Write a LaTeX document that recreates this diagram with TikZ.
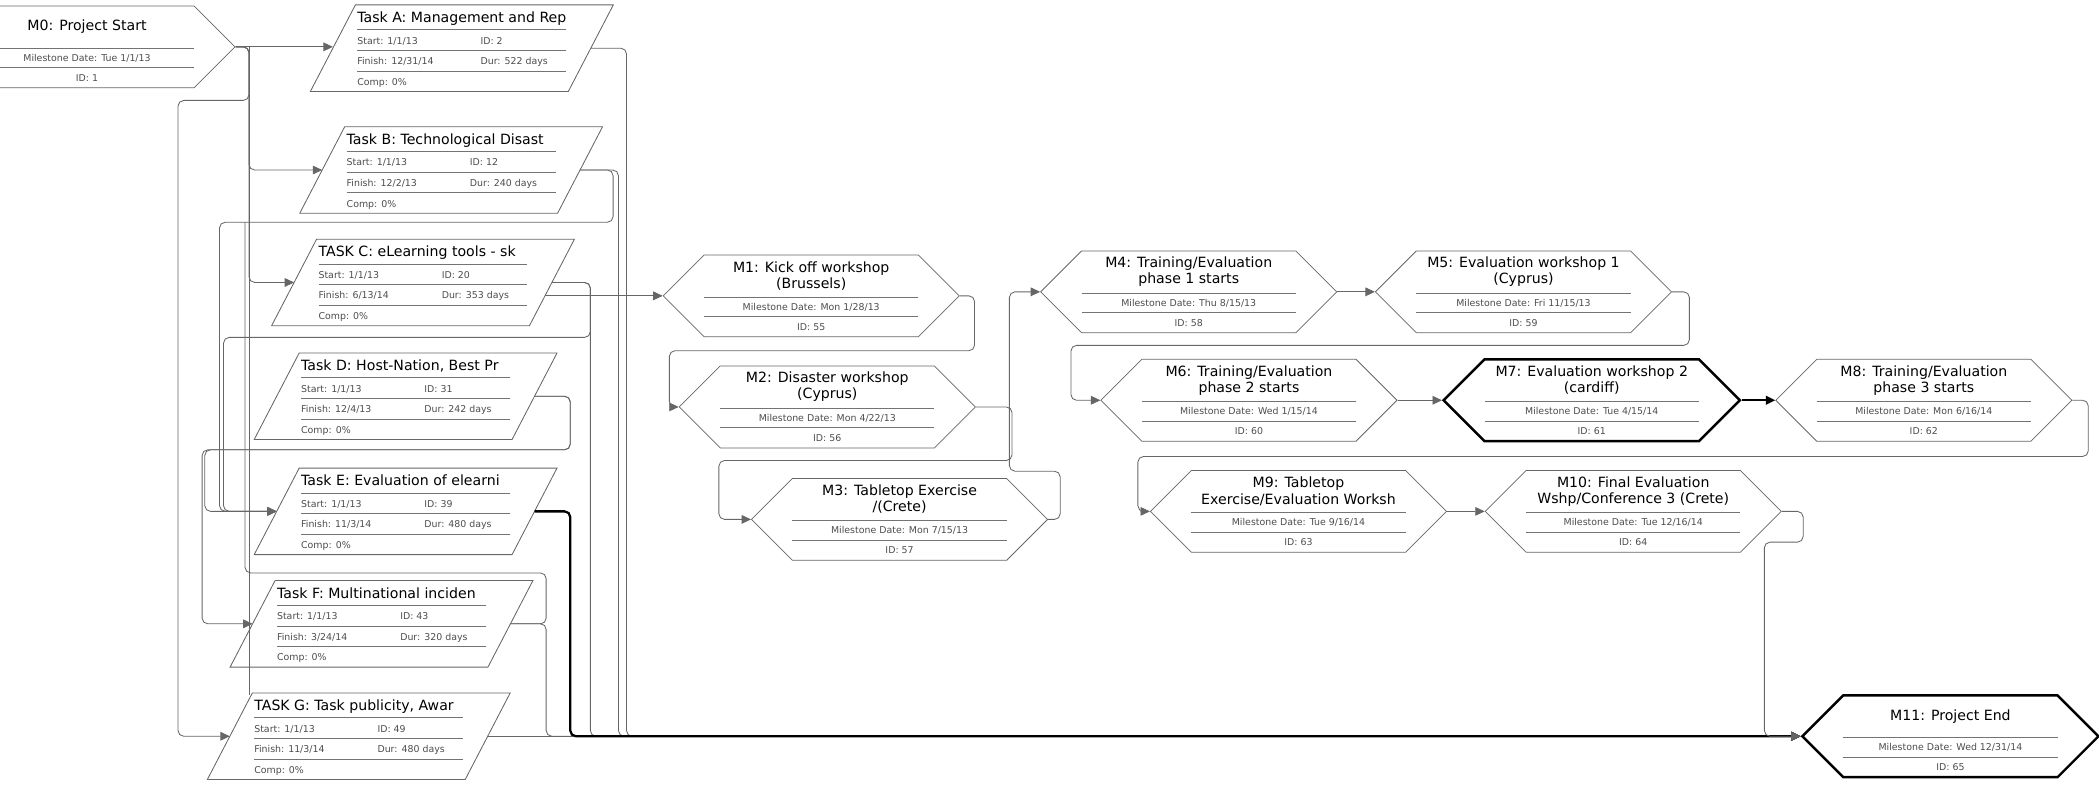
\documentclass[tikz,border=0pt]{standalone}
\usepackage{fontspec}
\setmainfont{DejaVu Sans}
\usepackage{colortbl}
\usetikzlibrary{arrows.meta,positioning,shapes.symbols,calc}
\tikzset{>/.tip={Triangle[length=5pt,width=4.6pt]}}
\arrayrulecolor{black!55}
\def\arraystretch{0.5}
\def\ttl{\fontsize{7.5}{8.6}\selectfont}
\def\fld{\leavevmode\fontsize{5}{6}\selectfont\color{black!70}}
\newcommand\mst[3]{\begin{tabular}{@{}>{\centering\arraybackslash}p{4cm}@{}}
  \parbox[c][0.78cm][c]{4cm}{\centering\ttl #1}\\\hline
  \fld\rule[-0.11cm]{0pt}{0.35cm}Milestone Date: #2\\\hline
  \fld\rule[-0.12cm]{0pt}{0.37cm}ID: #3
  \end{tabular}}
\newcommand\tsk[6]{\begin{tabular}{@{}p{2.3cm}@{}p{1.6cm}@{}}
  \multicolumn{2}{@{}l@{}}{\ttl\rule[-0.13cm]{0pt}{0.45cm}#1}\\\hline
  \fld\rule[-0.11cm]{0pt}{0.37cm}Start: #2 & \fld ID: #3\\\hline
  \fld\rule[-0.11cm]{0pt}{0.37cm}Finish: #4 & \fld Dur: #5\\\hline
  \fld\rule[-0.11cm]{0pt}{0.37cm}Comp: #6 &
  \end{tabular}}
\newcommand\frm[1]{\draw[box] ([xshift=0.42cm]#1.north west) -- ([xshift=0.42cm]#1.north east)
  -- ([xshift=-0.42cm]#1.south east) -- ([xshift=-0.42cm]#1.south west) -- cycle;}

\begin{document}
\begin{tikzpicture}[x=0.025cm,y=-0.025cm,on grid,
    ms/.style={signal,signal to=east and west,signal pointer angle=90,draw=black!60,inner sep=0pt},
    tk/.style={rectangle,inner xsep=0.45cm,inner ysep=0pt,minimum height=1.55cm},
    box/.style={draw=black!60,line width=0.45pt},
    crit/.style={draw=black,line width=1.3pt},
    link/.style={draw=black!60,line width=0.45pt,rounded corners=3pt,->},
    clink/.style={link,draw=black,line width=1.2pt}]
  \useasboundingbox (0,0) rectangle (1568,588);
  % tasks
  \node[tk](ta) at (345,36){\tsk{Task A: Management and Rep}{1/1/13}{2}{12/31/14}{522 days}{0\%}}; \frm{ta}
  \node[tk](tb) at (337,127){\tsk{Task B: Technological Disast}{1/1/13}{12}{12/2/13}{240 days}{0\%}}; \frm{tb}
  \node[tk](tc) at (316,211){\tsk{TASK C: eLearning tools - sk}{1/1/13}{20}{6/13/14}{353 days}{0\%}}; \frm{tc}
  \node[tk](td) at (303,296){\tsk{Task D: Host-Nation, Best Pr}{1/1/13}{31}{12/4/13}{242 days}{0\%}}; \frm{td}
  \node[tk](te) at (303,382){\tsk{Task E: Evaluation of elearni}{1/1/13}{39}{11/3/14}{480 days}{0\%}}; \frm{te}
  \node[tk](tf) at (285,466){\tsk{Task F: Multinational inciden}{1/1/13}{43}{3/24/14}{320 days}{0\%}}; \frm{tf}
  \node[tk](tg) at (268,550){\tsk{TASK G: Task publicity, Awar}{1/1/13}{49}{11/3/14}{480 days}{0\%}}; \frm{tg}
  % milestones
  \node[ms](m0) at (65,35){\mst{M0: Project Start}{Tue 1/1/13}{1}};
  \node[ms](m1) at (606,221){\mst{M1: Kick off workshop\\(Brussels)}{Mon 1/28/13}{55}};
  \node[ms](m2) at (618,304){\mst{M2: Disaster workshop\\(Cyprus)}{Mon 4/22/13}{56}};
  \node[ms](m3) at (672,388){\mst{M3: Tabletop Exercise\\/(Crete)}{Mon 7/15/13}{57}};
  \node[ms](m4) at (888,218){\mst{M4: Training/Evaluation\\phase 1 starts}{Thu 8/15/13}{58}};
  \node[ms](m5)[right=6.25cm of m4]{\mst{M5: Evaluation workshop 1\\(Cyprus)}{Fri 11/15/13}{59}};
  \node[ms](m6) at (933,299){\mst{M6: Training/Evaluation\\phase 2 starts}{Wed 1/15/14}{60}};
  \node[ms,crit](m7)[right=6.4cm of m6]{\mst{M7: Evaluation workshop 2\\(cardiff)}{Tue 4/15/14}{61}};
  \node[ms](m8)[right=6.2cm of m7]{\mst{M8: Training/Evaluation\\phase 3 starts}{Mon 6/16/14}{62}};
  \node[ms](m9) at (970,382){\mst{M9: Tabletop\\Exercise/Evaluation Worksh}{Tue 9/16/14}{63}};
  \node[ms](m10)[right=6.25cm of m9]{\mst{M10: Final Evaluation\\Wshp/Conference 3 (Crete)}{Tue 12/16/14}{64}};
  \node[ms,crit](m11) at (1457,550){\mst{M11: Project End}{Wed 12/31/14}{65}};
  % links on the left
  \coordinate(j1) at (186,35);
  \coordinate(trunkend) at (186,519);
  \coordinate(tfup) at (183,166);
  \draw[link] (m0.east) -- (m0.east -| ta.west);
  \draw[link] (m0.east) -- (j1) |- (tb.west);
  \draw[link] (m0.east) -- (j1) |- (tc.west);
  \draw[link] (m0.east) -- (j1) |- (133,75) |- (tg.west);
  \draw[link,-] (j1) -- (trunkend);
  \draw[link] (tb.east) -| (458,166) -- (164,166) |- (te.west);
  \draw[link] (tc.east) -| (441,252) -- (167,252) |- (te.west);
  \draw[link] (td.east) -| (426,336) -- (153,336) |- (te.west);
  \draw[link] (td.east) -| (426,336) -- (151,336) |- (tf.west);
  \draw[link,-] (tf.east) -| (408,428) -| (tfup);
  % links into M11
  \draw[link] (ta.east) -| (468,550) -- (m11.west);
  \draw[link] (tb.east) -| (462,550) -- (m11.west);
  \draw[link] (tc.east) -| (441,550) -- (m11.west);
  \draw[link] (tf.east) -| (408,550) -- (m11.west);
  \draw[link] (tg.east) -- (m11.west);
  \draw[clink] (te.east) -| (426,550) -- (m11.west);
  \draw[link] ($(tc.east |- m1.west)+(-5,0)$) -- (m1.west);
  % milestone chain
  \draw[link] (m1.east) -| (728,262) -- (500,262) |- (m2.west);
  \draw[link] (m2.east) -| (756,344) -- (537,344) |- (m3.west);
  \draw[link] (m3.east) -| (792,352) -- (754,352) |- (m4.west);
  \draw[link] (m4.east) -- (m5.west);
  \draw[link] (m5.east) -| (1262,258) -- (800,258) |- (m6.west);
  \draw[link] (m6.east) -- (m7.west);
  \draw[clink] (m7.east) -- (m8.west);
  \draw[link] (m8.east) -| (1560,341) -- (850,341) |- (m9.west);
  \draw[link] (m9.east) -- (m10.west);
  \draw[link] (m10.east) -| (1347,405) -| (1318,550) -- (m11.west);
\end{tikzpicture}
\end{document}
